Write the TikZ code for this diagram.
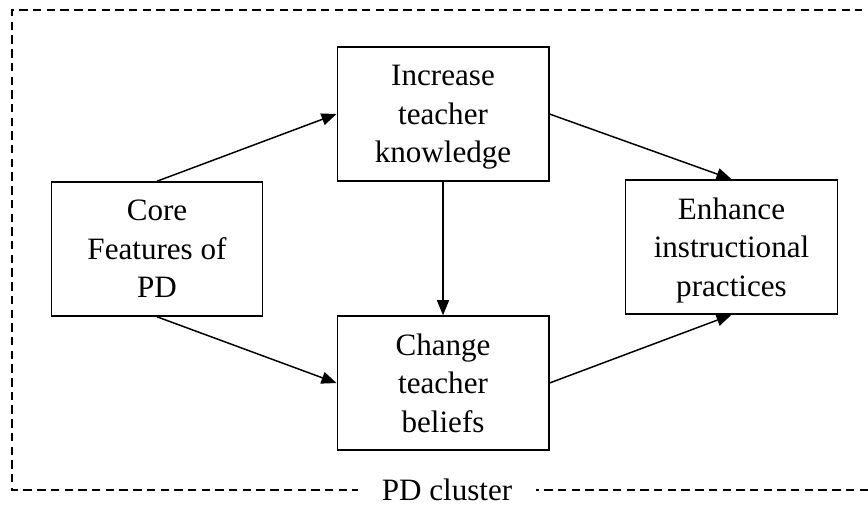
\documentclass[tikz,border=0pt]{standalone}
\usepackage{fontspec}
\setmainfont{Liberation Serif}
\usetikzlibrary{arrows.meta}

\begin{document}
\begin{tikzpicture}[
  box/.style={draw, line width=1.4pt, minimum width=7.05cm, minimum height=4.47cm,
    align=center, text depth=0pt, font=\fontsize{29.5}{36.5}\selectfont},
  arr/.style={line width=1.4pt, -{Triangle[length=0.5cm, width=0.4cm]}}
]
\useasboundingbox (0,0) rectangle (28.933,-16.833);

%Cluster border
\draw[line width=1.4pt, dash pattern=on 8pt off 5pt]
(28.933,-16.333) -- (0.4,-16.333) -- (0.4,-0.333) -- (28.733,-0.333);
\node[fill=white, inner xsep=0.8cm, inner ysep=1pt, anchor=base,
  font=\fontsize{29.5}{36.5}\selectfont] (cluster) at (14.9,-16.68) {PD cluster};

%Boxes
\node[box] (core) at (5.233,-8.3) {Core\\Features of\\PD};
\node[box] (incr) at (14.767,-3.8) {Increase\\teacher\\knowledge};
\node[box] (chg) at (14.767,-12.767) {Change\\teacher\\beliefs};
\node[box] (enh) at (24.383,-8.233) {Enhance\\instructional\\practices};

%Arrows
\draw[arr] (core.north) -- (incr.west);
\draw[arr] (core.south) -- (chg.west);
\draw[arr] (incr.south) -- (chg.north);
\draw[arr] (incr.east) -- (enh.north);
\draw[arr] (chg.east) -- (enh.south);
\end{tikzpicture}
\end{document}
